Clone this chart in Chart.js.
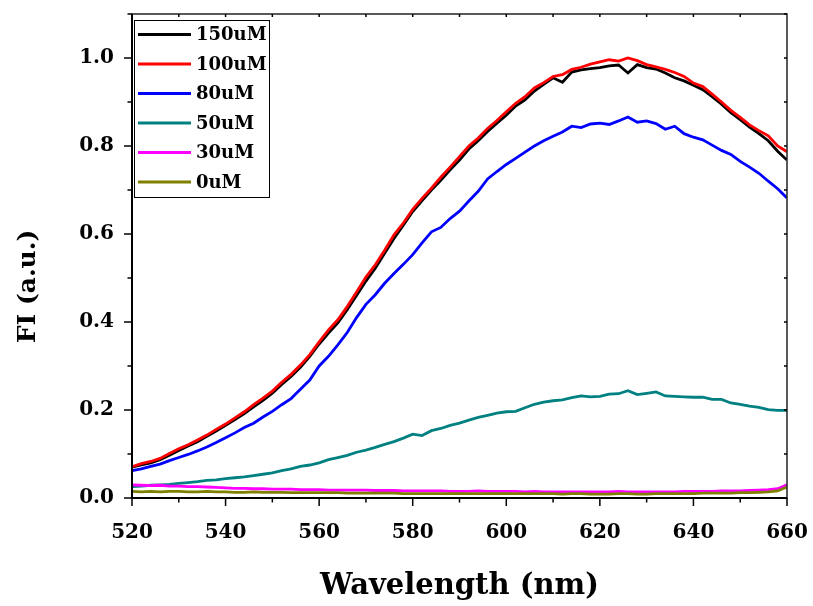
<!DOCTYPE html>
<html>
<head>
<meta charset="utf-8">
<script src="https://cdn.jsdelivr.net/npm/chart.js@4.4.0/dist/chart.umd.min.js"></script>
<style>
  body { margin: 0; background: #fff; }
  canvas { display: block; }
</style>
</head>
<body>
<canvas id="chart" width="813" height="606"></canvas>
<script>
// wavelength (nm)
const wavelengths = [
  520, 522, 524, 526, 528, 530, 532, 534, 536, 538,
  540, 542, 544, 546, 548, 550, 552, 554, 556, 558,
  560, 562, 564, 566, 568, 570, 572, 574, 576, 578,
  580, 582, 584, 586, 588, 590, 592, 594, 596, 598,
  600, 602, 604, 606, 608, 610, 612, 614, 616, 618,
  620, 622, 624, 626, 628, 630, 632, 634, 636, 638,
  640, 642, 644, 646, 648, 650, 652, 654, 656, 658,
  660,
];

const labels = ["150uM", "100uM", "80uM", "50uM", "30uM", "0uM"];
const colors = ["#000000", "#ff0000", "#0000ff", "#008080", "#ff00ff", "#808000"];

const fi150 = [
  0.070, 0.075, 0.080, 0.087, 0.097, 0.108, 0.118, 0.128, 0.140, 0.152,
  0.165, 0.178, 0.192, 0.207, 0.222, 0.238, 0.258, 0.276, 0.297, 0.322,
  0.350, 0.375, 0.398, 0.428, 0.460, 0.493, 0.522, 0.556, 0.590, 0.620,
  0.651, 0.676, 0.700, 0.722, 0.746, 0.768, 0.793, 0.812, 0.833, 0.852,
  0.870, 0.891, 0.905, 0.925, 0.940, 0.955, 0.945, 0.968, 0.973, 0.976,
  0.978, 0.982, 0.984, 0.966, 0.985, 0.978, 0.975, 0.966, 0.955, 0.948,
  0.938, 0.928, 0.912, 0.895, 0.876, 0.860, 0.843, 0.828, 0.812, 0.788,
  0.768,
];
const fi100 = [
  0.071, 0.078, 0.083, 0.090, 0.101, 0.112, 0.121, 0.132, 0.143, 0.156,
  0.168, 0.182, 0.196, 0.212, 0.227, 0.243, 0.263, 0.281, 0.302, 0.326,
  0.355, 0.382, 0.405, 0.435, 0.468, 0.502, 0.530, 0.563, 0.598, 0.625,
  0.656, 0.681, 0.704, 0.729, 0.752, 0.776, 0.800, 0.818, 0.840, 0.858,
  0.878, 0.897, 0.912, 0.932, 0.944, 0.958, 0.962, 0.974, 0.979, 0.986,
  0.991, 0.996, 0.993, 1.000, 0.994, 0.985, 0.980, 0.974, 0.967, 0.958,
  0.943, 0.935, 0.918, 0.900, 0.881, 0.865, 0.848, 0.835, 0.823, 0.800,
  0.787,
];
const fi80 = [
  0.062, 0.066, 0.072, 0.077, 0.085, 0.092, 0.099, 0.107, 0.116, 0.126,
  0.137, 0.148, 0.160, 0.170, 0.184, 0.197, 0.212, 0.226, 0.247, 0.268,
  0.300, 0.322, 0.348, 0.376, 0.410, 0.440, 0.462, 0.488, 0.510, 0.531,
  0.553, 0.580, 0.605, 0.615, 0.635, 0.652, 0.675, 0.697, 0.725, 0.742,
  0.758, 0.772, 0.786, 0.800, 0.812, 0.822, 0.832, 0.845, 0.842, 0.850,
  0.852, 0.849, 0.857, 0.866, 0.854, 0.857, 0.851, 0.838, 0.845, 0.828,
  0.820, 0.814, 0.802, 0.790, 0.781, 0.765, 0.752, 0.738, 0.720, 0.703,
  0.682,
];
const fi50 = [
  0.026, 0.027, 0.029, 0.030, 0.031, 0.033, 0.035, 0.037, 0.040, 0.041,
  0.044, 0.046, 0.048, 0.051, 0.054, 0.057, 0.062, 0.066, 0.072, 0.075,
  0.080, 0.087, 0.092, 0.097, 0.104, 0.109, 0.115, 0.122, 0.128, 0.136,
  0.145, 0.142, 0.153, 0.158, 0.165, 0.170, 0.177, 0.183, 0.188, 0.193,
  0.196, 0.197, 0.205, 0.213, 0.218, 0.221, 0.223, 0.228, 0.232, 0.230,
  0.231, 0.236, 0.237, 0.244, 0.235, 0.238, 0.241, 0.232, 0.231, 0.230,
  0.229, 0.229, 0.224, 0.224, 0.216, 0.213, 0.209, 0.206, 0.201, 0.199,
  0.199,
];
const fi30 = [
  0.030, 0.029, 0.028, 0.029, 0.027, 0.027, 0.026, 0.026, 0.025, 0.024,
  0.023, 0.022, 0.022, 0.021, 0.021, 0.020, 0.020, 0.020, 0.019, 0.019,
  0.019, 0.018, 0.018, 0.018, 0.018, 0.018, 0.017, 0.017, 0.017, 0.016,
  0.016, 0.016, 0.016, 0.016, 0.015, 0.015, 0.015, 0.016, 0.015, 0.015,
  0.015, 0.015, 0.014, 0.015, 0.014, 0.014, 0.014, 0.014, 0.014, 0.014,
  0.014, 0.014, 0.015, 0.014, 0.014, 0.014, 0.014, 0.014, 0.014, 0.015,
  0.015, 0.015, 0.015, 0.016, 0.016, 0.016, 0.017, 0.018, 0.019, 0.021,
  0.030,
];
const fi0 = [
  0.015, 0.014, 0.015, 0.014, 0.015, 0.015, 0.014, 0.014, 0.015, 0.014,
  0.014, 0.013, 0.013, 0.014, 0.013, 0.013, 0.013, 0.012, 0.012, 0.012,
  0.012, 0.012, 0.012, 0.011, 0.011, 0.011, 0.011, 0.011, 0.011, 0.010,
  0.010, 0.010, 0.010, 0.010, 0.010, 0.010, 0.010, 0.010, 0.010, 0.010,
  0.010, 0.010, 0.010, 0.010, 0.010, 0.010, 0.009, 0.010, 0.010, 0.009,
  0.009, 0.009, 0.010, 0.010, 0.009, 0.009, 0.010, 0.010, 0.010, 0.010,
  0.010, 0.011, 0.011, 0.011, 0.011, 0.012, 0.012, 0.013, 0.014, 0.016,
  0.025,
];

const series = [fi150, fi100, fi80, fi50, fi30, fi0];

const FONT = "'DejaVu Serif', 'Liberation Serif', serif";

// box, mirrored ticks and legend drawn on top of the chart area
const framePlugin = {
  id: "frame",
  afterDraw(chart) {
    const { ctx, chartArea: a, scales } = chart;
    const xs = scales.x, ys = scales.y;
    ctx.save();
    ctx.strokeStyle = "#222";
    ctx.lineWidth = 1.5;
    ctx.strokeRect(a.left, a.top, a.right - a.left, a.bottom - a.top);
    ctx.lineWidth = 2;
    ctx.strokeStyle = "#000";
    ctx.beginPath();
    ctx.moveTo(a.left, a.top);
    ctx.lineTo(a.left, a.bottom);
    ctx.lineTo(a.right, a.bottom);
    ctx.stroke();

    ctx.lineWidth = 1.5;
    ctx.beginPath();
    for (let v = 520; v <= 660; v += 10) {
      const px = xs.getPixelForValue(v);
      const len = v % 20 === 0 ? 8 : 4.5;
      ctx.moveTo(px, a.bottom);
      ctx.lineTo(px, a.bottom + len);
      if (v > 520 && v < 660) {
        ctx.moveTo(px, a.top);
        ctx.lineTo(px, a.top + 3);
      }
    }
    for (let i = 0; i <= 11; i++) {
      const py = ys.getPixelForValue(i / 10);
      const len = i % 2 === 0 ? 8 : 4.5;
      ctx.moveTo(a.left, py);
      ctx.lineTo(a.left - len, py);
      ctx.moveTo(a.right, py);
      ctx.lineTo(a.right - 3, py);
    }
    ctx.stroke();

    // legend
    const lx = a.left + 2, ly = a.top + 6;
    const rowH = 29.5;
    const boxW = 135, boxH = rowH * labels.length;
    ctx.fillStyle = "#fff";
    ctx.fillRect(lx, ly, boxW, boxH);
    ctx.lineWidth = 1;
    ctx.strokeStyle = "#000";
    ctx.strokeRect(lx + 0.5, ly + 0.5, boxW, boxH);
    ctx.font = "bold 18px " + FONT;
    ctx.textBaseline = "middle";
    chart.data.datasets.forEach((ds, i) => {
      const cy = ly + 14.5 + i * rowH;
      ctx.strokeStyle = ds.borderColor;
      ctx.lineWidth = 3;
      ctx.beginPath();
      ctx.moveTo(lx + 4, cy);
      ctx.lineTo(lx + 57, cy);
      ctx.stroke();
      ctx.fillStyle = "#000";
      ctx.fillText(ds.label, lx + 62, cy + 1);
    });
    ctx.restore();
  },
};

const datasets = series.map((vals, i) => ({
  label: labels[i],
  data: vals.map((v, j) => ({ x: wavelengths[j], y: v })),
  borderColor: colors[i],
  backgroundColor: colors[i],
  borderWidth: 2.8,
  pointRadius: 0,
  tension: 0,
  order: series.length - i,
}));

new Chart(document.getElementById("chart"), {
  type: "line",
  data: { datasets },
  options: {
    responsive: false,
    animation: false,
    layout: { padding: { top: 14, right: 26, left: 0, bottom: 0 } },
    plugins: {
      legend: { display: false },
      tooltip: { enabled: false },
    },
    scales: {
      x: {
        type: "linear",
        min: 520,
        max: 660,
        border: { display: false },
        grid: { display: false, drawTicks: false },
        ticks: {
          stepSize: 10,
          padding: 23,
          color: "#000",
          font: { family: FONT, size: 20, weight: "bold" },
          maxRotation: 0,
          autoSkip: false,
          callback: (v) => (v % 20 === 0 ? String(v) : ""),
        },
        title: {
          display: true,
          text: "Wavelength (nm)",
          color: "#000",
          font: { family: FONT, size: 29, weight: "bold" },
          padding: { top: 0, bottom: 2 },
        },
        afterFit: (scale) => {
          scale.height = 108;
          scale.paddingLeft = 0;
          scale.paddingRight = 0;
        },
      },
      y: {
        min: 0,
        max: 1.1,
        border: { display: false },
        grid: { display: false, drawTicks: false },
        ticks: {
          stepSize: 0.1,
          padding: 18,
          color: "#000",
          font: { family: FONT, size: 20, weight: "bold" },
          autoSkip: false,
          callback: (v) => {
            const k = Math.round(v * 10);
            return k % 2 === 0 && k <= 10 ? (k / 10).toFixed(1) : "";
          },
        },
        title: {
          display: true,
          // trailing spaces push the centred title a little lower, as in the original
          text: "FI (a.u.)       ",
          color: "#000",
          font: { family: FONT, size: 25, weight: "bold" },
          padding: { top: 13, bottom: 0 },
        },
        afterFit: (scale) => {
          scale.width = 132;
          scale.paddingTop = 0;
          scale.paddingBottom = 0;
        },
      },
    },
  },
  plugins: [framePlugin],
});
</script>
</body>
</html>
